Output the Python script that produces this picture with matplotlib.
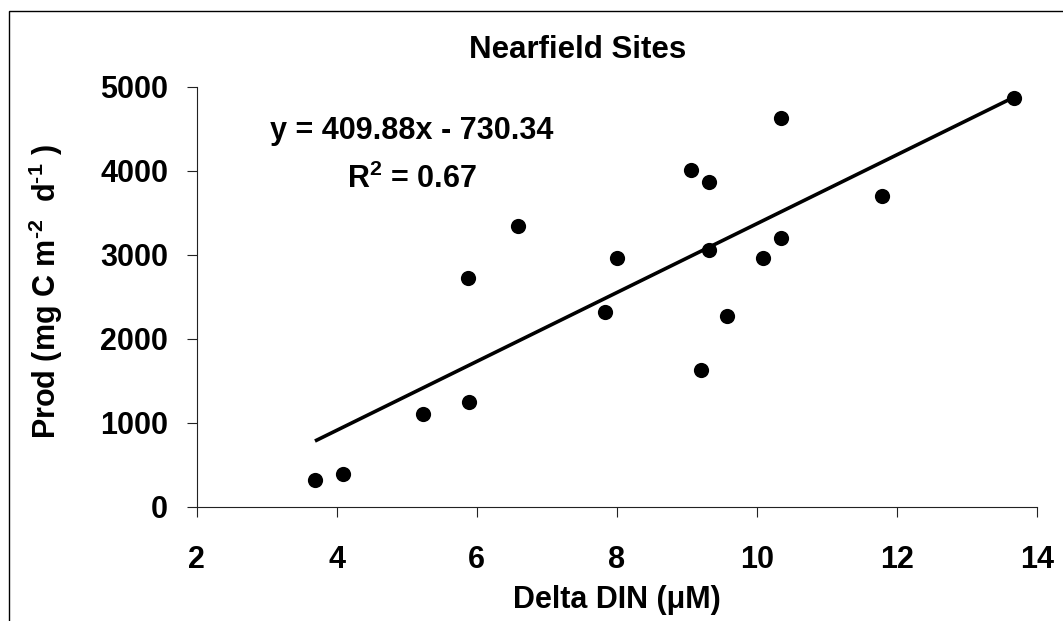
import matplotlib
matplotlib.use("Agg")
import matplotlib.pyplot as plt
from matplotlib.patches import Rectangle

# Nearfield sites: delta DIN (uM) vs production (mg C m-2 d-1)
delta_din = [3.69, 4.09, 5.24, 5.89, 5.87, 6.59, 7.83, 8.01, 9.06,
             9.32, 9.32, 9.21, 9.58, 10.09, 10.35, 10.35, 11.79, 13.67]
prod = [318, 386, 1104, 1250, 2719, 3342, 2318, 2957, 4008,
        3865, 3056, 1627, 2270, 2957, 3199, 4624, 3699, 4866]

# trendline as printed on the chart
slope = 409.88
intercept = -730.34
r_squared = 0.67

plt.rcParams['font.family'] = ['Liberation Sans', 'DejaVu Sans']
plt.rcParams['font.weight'] = 'bold'
plt.rcParams['mathtext.fontset'] = 'custom'
plt.rcParams['mathtext.rm'] = 'Liberation Sans:bold'
plt.rcParams['mathtext.bf'] = 'Liberation Sans:bold'
plt.rcParams['mathtext.it'] = 'Liberation Sans:bold'

fig = plt.figure(figsize=(10.63, 6.21), dpi=100)
ax = fig.add_axes([0.185, 0.184, 0.7903, 0.6764])

# chart area border (runs off the right and bottom edge in the original)
fig.patches.append(Rectangle((8.5 / 1063, -0.05), 1.2, 1.05 - 11 / 621,
                             transform=fig.transFigure, fill=False,
                             edgecolor='black', linewidth=1.0))

ax.scatter(delta_din, prod, s=120, color='black', zorder=3, linewidths=0)

x_fit = [min(delta_din), max(delta_din)]
y_fit = [slope * x + intercept for x in x_fit]
ax.plot(x_fit, y_fit, color='black', linewidth=2.6, solid_capstyle='butt')

ax.set_xlim(2, 14)
ax.set_ylim(0, 5000)
ax.set_xticks(range(2, 15, 2))
ax.set_yticks(range(0, 5001, 1000))

for side in ['top', 'right']:
    ax.spines[side].set_visible(False)
for side in ['left', 'bottom']:
    ax.spines[side].set_linewidth(0.8)
    ax.spines[side].set_color('#222222')

ax.tick_params(axis='both', direction='out', length=7.5, width=0.8,
               color='#222222', labelsize=22)
ax.tick_params(axis='x', pad=20)
ax.tick_params(axis='y', pad=13)
for lbl in ax.get_xticklabels() + ax.get_yticklabels():
    lbl.set_fontweight('bold')

fig.text(578 / 1063, 1 - 50 / 621, 'Nearfield Sites', ha='center', va='center',
         fontsize=22.5, fontweight='bold')
fig.text(617 / 1063, 1 - 600 / 621, 'Delta DIN (\u03bcM)', ha='center', va='center',
         fontsize=22, fontweight='bold')
fig.text(46 / 1063, 1 - 292 / 621, r'Prod (mg C m$^{\text{-2}}$  d$^{\text{-1}}$ )',
         ha='center', va='center', rotation=90, fontsize=22, fontweight='bold')

fig.text(412 / 1063, 1 - 131 / 621, f'y = {slope:.2f}x - {abs(intercept):.2f}',
         ha='center', va='center', fontsize=22, fontweight='bold')
fig.text(412 / 1063, 1 - 179 / 621, f'R$^2$ = {r_squared:.2f}',
         ha='center', va='center', fontsize=22, fontweight='bold')

fig.savefig('out.png', dpi=100)
